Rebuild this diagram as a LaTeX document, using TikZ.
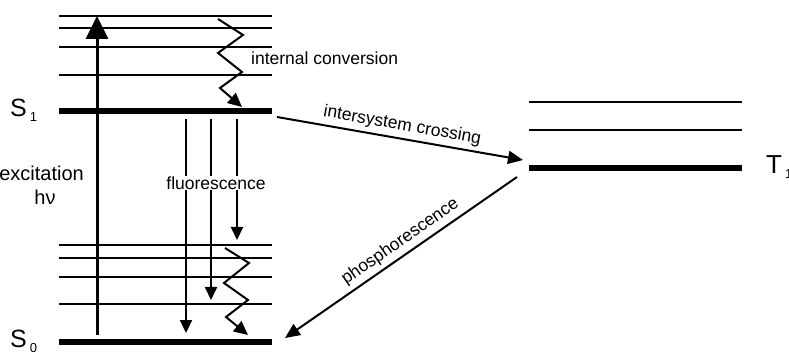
\documentclass[tikz,border=0pt]{standalone}
\usepackage{fontspec}
\setmainfont{Liberation Sans}
\usetikzlibrary{arrows.meta}
\begin{document}
\begin{tikzpicture}[x=1pt,y=-1pt,
  thinlvl/.style={line width=2pt},
  thicklvl/.style={line width=6pt},
  arr/.style={line width=2pt,-{Triangle[length=15pt,width=13pt]}},
  fluo/.style={line width=2pt,-{Triangle[length=13pt,width=12pt]}},
  zig/.style={line width=2pt,line join=miter,-{Triangle[length=14pt,width=13pt]}},
  lbl/.style={font=\fontsize{17.5}{20}\selectfont, inner sep=3pt},
  big/.style={font=\fontsize{25}{27}\selectfont, inner sep=0pt}]
\newcommand{\statesub}[1]{\hspace{3pt}\raisebox{-5pt}{\fontsize{13}{14}\selectfont #1}}
\useasboundingbox (0,0) rectangle (789,352);
% upper singlet levels
\foreach \y [count=\i] in {16,28,47,75} {
  \coordinate (u\i a) at (59,\y); \coordinate (u\i b) at (272,\y);
  \draw[thinlvl] (u\i a) -- (u\i b);
}
\coordinate (s1a) at (59,111); \coordinate (s1b) at (272,111);
\draw[thicklvl] (s1a) -- (s1b);
% lower levels
\foreach \y [count=\i] in {245,258,277,304} {
  \coordinate (l\i a) at (59,\y); \coordinate (l\i b) at (272,\y);
  \draw[thinlvl] (l\i a) -- (l\i b);
}
\coordinate (s0a) at (59,342); \coordinate (s0b) at (272,342);
\draw[thicklvl] (s0a) -- (s0b);
% triplet levels
\coordinate (t3a) at (529,102); \coordinate (t3b) at (742,102);
\coordinate (t2a) at (529,130); \coordinate (t2b) at (742,130);
\coordinate (t1a) at (529,168); \coordinate (t1b) at (742,168);
\draw[thinlvl] (t3a) -- (t3b);
\draw[thinlvl] (t2a) -- (t2b);
\draw[thicklvl] (t1a) -- (t1b);
% excitation
\coordinate (exb) at (97,335); \coordinate (ext) at (97,16);
\draw[line width=3pt,-{Triangle[length=23pt,width=22pt]}] (exb) -- (ext);
% fluorescence
\coordinate (f1s) at (186,119); \coordinate (f1e) at (186,333);
\coordinate (f2s) at (211,119); \coordinate (f2e) at (211,300);
\coordinate (f3s) at (237,119); \coordinate (f3e) at (237,240);
\draw[fluo] (f1s) -- (f1e);
\draw[fluo] (f2s) -- (f2e);
\draw[fluo] (f3s) -- (f3e);
\node[lbl, fill=white, inner sep=1pt] (fl) at (216,183) {fluorescence};
% internal conversion zigzags
\coordinate (za1) at (218,19); \coordinate (za2) at (243,35); \coordinate (za3) at (218,53);
\coordinate (za4) at (242,72); \coordinate (za5) at (220,88); \coordinate (za6) at (242,107);
\draw[zig] (za1) -- (za2) -- (za3) -- (za4) -- (za5) -- (za6);
\coordinate (zb1) at (225,248); \coordinate (zb2) at (249,263); \coordinate (zb3) at (224,283);
\coordinate (zb4) at (248,300); \coordinate (zb5) at (226,317); \coordinate (zb6) at (248,335);
\draw[zig] (zb1) -- (zb2) -- (zb3) -- (zb4) -- (zb5) -- (zb6);
\node[lbl, anchor=west, inner sep=0pt] (ic) at (251,58) {internal conversion};
% intersystem crossing
\coordinate (isA) at (277,117); \coordinate (isB) at (523,160);
\draw[arr] (isA) -- node[lbl, sloped, above, inner sep=4pt] (isl) {intersystem crossing} (isB);
% phosphorescence
\coordinate (phA) at (517,177); \coordinate (phB) at (285,338);
\draw[arr] (phA) -- (phB);
\path (phB) -- node[lbl, sloped, above, pos=0.53, inner sep=5pt] (phl) {phosphorescence} (phA);
% excitation label
\node[font=\fontsize{20}{22}\selectfont, anchor=east, inner sep=0pt] (exl) at (84,173) {excitation};
\node[font=\fontsize{20}{22}\selectfont, inner sep=0pt] (hnu) at (45,197) {hν};
% state labels
\node[big, anchor=base west] (S1) at (10,117) {S\statesub{1}};
\node[big, anchor=base west] (S0) at (10,347) {S\statesub{0}};
\node[big, anchor=base west, font=\fontsize{26}{28}\selectfont] (T1) at (766,174) {T\statesub{1}};
\end{tikzpicture}
\end{document}
